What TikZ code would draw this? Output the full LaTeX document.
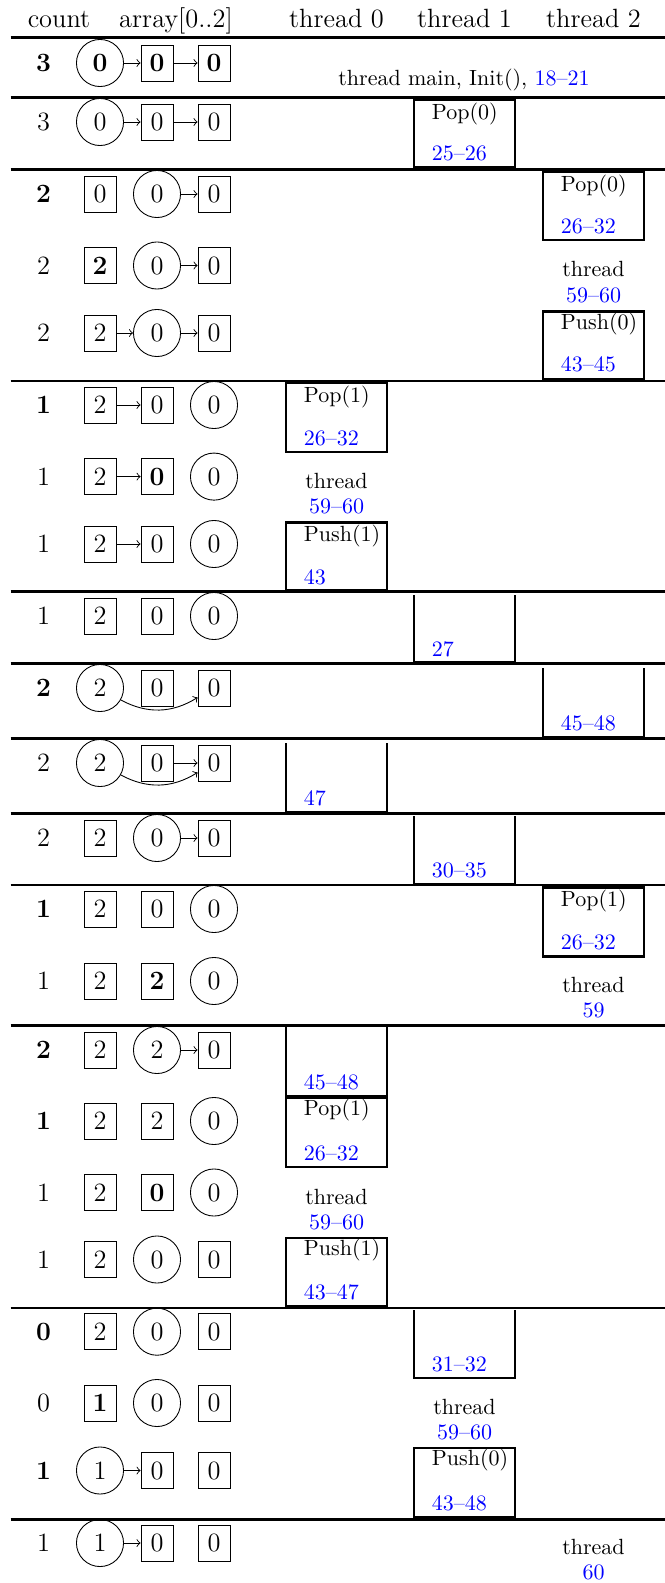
\documentclass[tikz,border=0pt]{standalone}
\begin{document}
\begin{tikzpicture}[x=0.4545pt,y=-0.4545pt,
  cell/.style={draw,line width=0.4pt,minimum width=14.5pt,minimum height=16.4pt,inner sep=0pt,font=\large},
  circ/.style={draw,circle,line width=0.4pt,minimum size=21.4pt,inner sep=0pt,font=\large},
  cnt/.style={font=\large,inner sep=0pt},
  arr/.style={->,line width=0.4pt},
  rule/.style={line width=1.1pt},
  tbox/.style={line width=1.1pt},
  op/.style={anchor=base west,inner sep=0pt},
  ln/.style={anchor=base west,inner sep=0pt,text=blue},
  tc/.style={anchor=base,inner sep=0pt},
  hdr/.style={anchor=base,inner sep=0pt,font=\large}]
\useasboundingbox (0,0) rectangle (665,1583);

% header
\node[hdr] (hcount) at (59,28) {count};
\node[hdr] (harray) at (176,28) {array[0..2]};
\node[hdr] (ht0) at (336.5,28) {thread 0};
\node[hdr] (ht1) at (464.5,28) {thread 1};
\node[hdr] (ht2) at (593.5,28) {thread 2};

% rules
\foreach \yy in {37.7,97.5,169.3,380.8,591.7,663.3,738.3,813.3,885,1025.3,1307.7,1519.3}
  \draw[rule] (10.6,\yy) -- (665,\yy);

% row 1
\node[cnt] (c1) at (43.5,63) {\textbf{3}};
\node[circ] (a1) at (100,63) {\textbf{0}};
\node[cell] (b1) at (157,63) {\textbf{0}};
\node[cell] (d1) at (214,63) {\textbf{0}};
\draw[arr] (a1) -- (b1); \draw[arr] (b1) -- (d1);
\node[tc] (init) at (464,86) {thread main, Init(), \textcolor{blue}{18--21}};

% row 2
\node[cnt] (c2) at (43.5,122) {3};
\node[circ] (a2) at (100,122) {0};
\node[cell] (b2) at (157,122) {0};
\node[cell] (d2) at (214,122) {0};
\draw[arr] (a2) -- (b2); \draw[arr] (b2) -- (d2);
\draw[tbox] (414,100) rectangle (515,167.5);
\node[op] (o2) at (431.5,120) {Pop(0)};
\node[ln] (l2) at (431.5,160.5) {25--26};

% group 3a
\node[cnt] (c3a) at (43.5,194) {\textbf{2}};
\node[cell] (a3a) at (100,194) {0};
\node[circ] (b3a) at (157,194) {0};
\node[cell] (d3a) at (214,194) {0};
\draw[arr] (b3a) -- (d3a);
\draw[tbox] (543,171.7) rectangle (644,240);
\node[op] (o3a) at (560.5,191.5) {Pop(0)};
\node[ln] (l3a) at (560.5,233.5) {26--32};

% group 3b
\node[cnt] (c3b) at (43.5,265.5) {2};
\node[cell] (a3b) at (100,265.5) {\textbf{2}};
\node[circ] (b3b) at (157,265.5) {0};
\node[cell] (d3b) at (214,265.5) {0};
\draw[arr] (b3b) -- (d3b);
\node[tc] (t3b) at (593.5,276.7) {thread};
\node[tc,text=blue] (n3b) at (593.5,302.7) {59--60};

% group 3c
\node[cnt] (c3c) at (43.5,333) {2};
\node[cell] (a3c) at (100,333) {2};
\node[circ] (b3c) at (157,333) {0};
\node[cell] (d3c) at (214,333) {0};
\draw[arr] (a3c) -- (b3c); \draw[arr] (b3c) -- (d3c);
\draw[tbox] (543,311.7) rectangle (644,379.3);
\node[op] (o3c) at (560.5,329.5) {Push(0)};
\node[ln] (l3c) at (560.5,371.5) {43--45};

% group 4a
\node[cnt] (c4a) at (43.5,405) {\textbf{1}};
\node[cell] (a4a) at (100,405) {2};
\node[cell] (b4a) at (157,405) {0};
\node[circ] (d4a) at (214,405) {0};
\draw[arr] (a4a) -- (b4a);
\draw[tbox] (286,382.7) rectangle (387,452);
\node[op] (o4a) at (303.5,402.5) {Pop(1)};
\node[ln] (l4a) at (303.5,445.5) {26--32};

% group 4b
\node[cnt] (c4b) at (43.5,476.6) {1};
\node[cell] (a4b) at (100,476.6) {2};
\node[cell] (b4b) at (157,476.6) {\textbf{0}};
\node[circ] (d4b) at (214,476.6) {0};
\draw[arr] (a4b) -- (b4b);
\node[tc] (t4b) at (336.5,488.3) {thread};
\node[tc,text=blue] (n4b) at (336.5,513.3) {59--60};

% group 4c
\node[cnt] (c4c) at (43.5,544) {1};
\node[cell] (a4c) at (100,544) {2};
\node[cell] (b4c) at (157,544) {0};
\node[circ] (d4c) at (214,544) {0};
\draw[arr] (a4c) -- (b4c);
\draw[tbox] (286,522.7) rectangle (387,590.2);
\node[op] (o4c) at (303.5,541) {Push(1)};
\node[ln] (l4c) at (303.5,584) {43};

% row 5
\node[cnt] (c5) at (43.5,616) {1};
\node[cell] (a5) at (100,616) {2};
\node[cell] (b5) at (157,616) {0};
\node[circ] (d5) at (214,616) {0};
\draw[tbox] (414,595) -- (414,662) -- (515,662) -- (515,595);
\node[ln] (l5) at (431.5,656) {27};

% row 6
\node[cnt] (c6) at (43.5,688) {\textbf{2}};
\node[circ] (a6) at (100,688) {2};
\node[cell] (b6) at (157,688) {0};
\node[cell] (d6) at (214,688) {0};
\draw[arr] (a6) to[bend right] (d6);
\draw[tbox] (543,668) -- (543,737) -- (644,737) -- (644,668);
\node[ln] (l6) at (560.5,730.5) {45--48};

% row 7
\node[cnt] (c7) at (43.5,763) {2};
\node[circ] (a7) at (100,763) {2};
\node[cell] (b7) at (157,763) {0};
\node[cell] (d7) at (214,763) {0};
\draw[arr] (b7) -- (d7);
\draw[arr] (a7) to[bend right] (d7);
\draw[tbox] (286,743) -- (286,812) -- (387,812) -- (387,743);
\node[ln] (l7) at (303.5,805) {47};

% row 8
\node[cnt] (c8) at (43.5,838) {2};
\node[cell] (a8) at (100,838) {2};
\node[circ] (b8) at (157,838) {0};
\node[cell] (d8) at (214,838) {0};
\draw[arr] (b8) -- (d8);
\draw[tbox] (414,816) -- (414,884) -- (515,884) -- (515,816);
\node[ln] (l8) at (431.5,877) {30--35};

% group 9a
\node[cnt] (c9a) at (43.5,909) {\textbf{1}};
\node[cell] (a9a) at (100,909) {2};
\node[cell] (b9a) at (157,909) {0};
\node[circ] (d9a) at (214,909) {0};
\draw[tbox] (543,887.5) rectangle (644,956.5);
\node[op] (o9a) at (560.5,906) {Pop(1)};
\node[ln] (l9a) at (560.5,949) {26--32};

% group 9b
\node[cnt] (c9b) at (43.5,981) {1};
\node[cell] (a9b) at (100,981) {2};
\node[cell] (b9b) at (157,981) {\textbf{2}};
\node[circ] (d9b) at (214,981) {0};
\node[tc] (t9b) at (593.5,992.5) {thread};
\node[tc,text=blue] (n9b) at (593.5,1017.5) {59};

% group 10a
\node[cnt] (c10a) at (43.5,1050) {\textbf{2}};
\node[cell] (a10a) at (100,1050) {2};
\node[circ] (b10a) at (157,1050) {2};
\node[cell] (d10a) at (214,1050) {0};
\draw[arr] (b10a) -- (d10a);
\draw[tbox] (286,1027) -- (286,1096) -- (387,1096) -- (387,1027);
\node[ln] (l10a) at (303.5,1089) {45--48};

% group 10b
\node[cnt] (c10b) at (43.5,1121) {\textbf{1}};
\node[cell] (a10b) at (100,1121) {2};
\node[cell] (b10b) at (157,1121) {2};
\node[circ] (d10b) at (214,1121) {0};
\draw[tbox] (286,1097.5) rectangle (387,1167);
\node[op] (o10b) at (303.5,1115.5) {Pop(1)};
\node[ln] (l10b) at (303.5,1160) {26--32};

% group 10c
\node[cnt] (c10c) at (43.5,1192.5) {1};
\node[cell] (a10c) at (100,1192.5) {2};
\node[cell] (b10c) at (157,1192.5) {\textbf{0}};
\node[circ] (d10c) at (214,1192.5) {0};
\node[tc] (t10c) at (336.5,1204) {thread};
\node[tc,text=blue] (n10c) at (336.5,1229) {59--60};

% group 10d
\node[cnt] (c10d) at (43.5,1259.5) {1};
\node[cell] (a10d) at (100,1259.5) {2};
\node[circ] (b10d) at (157,1259.5) {0};
\node[cell] (d10d) at (214,1259.5) {0};
\draw[tbox] (286,1238) rectangle (387,1306);
\node[op] (o10d) at (303.5,1255.5) {Push(1)};
\node[ln] (l10d) at (303.5,1299) {43--47};

% group 11a
\node[cnt] (c11a) at (43.5,1331.7) {\textbf{0}};
\node[cell] (a11a) at (100,1331.7) {2};
\node[circ] (b11a) at (157,1331.7) {0};
\node[cell] (d11a) at (214,1331.7) {0};
\draw[tbox] (414,1310) -- (414,1378) -- (515,1378) -- (515,1310);
\node[ln] (l11a) at (431.5,1371) {31--32};

% group 11b
\node[cnt] (c11b) at (43.5,1403) {0};
\node[cell] (a11b) at (100,1403) {\textbf{1}};
\node[circ] (b11b) at (157,1403) {0};
\node[cell] (d11b) at (214,1403) {0};
\node[tc] (t11b) at (464.5,1414.5) {thread};
\node[tc,text=blue] (n11b) at (464.5,1439.5) {59--60};

% group 11c
\node[cnt] (c11c) at (43.5,1470.5) {\textbf{1}};
\node[circ] (a11c) at (100,1470.5) {1};
\node[cell] (b11c) at (157,1470.5) {0};
\node[cell] (d11c) at (214,1470.5) {0};
\draw[arr] (a11c) -- (b11c);
\draw[tbox] (414,1448) rectangle (515,1517.5);
\node[op] (o11c) at (431.5,1465.5) {Push(0)};
\node[ln] (l11c) at (431.5,1510) {43--48};

% row 12
\node[cnt] (c12) at (43.5,1543) {1};
\node[circ] (a12) at (100,1543) {1};
\node[cell] (b12) at (157,1543) {0};
\node[cell] (d12) at (214,1543) {0};
\draw[arr] (a12) -- (b12);
\node[tc] (t12) at (593.5,1554) {thread};
\node[tc,text=blue] (n12) at (593.5,1579) {60};
\end{tikzpicture}
\end{document}
